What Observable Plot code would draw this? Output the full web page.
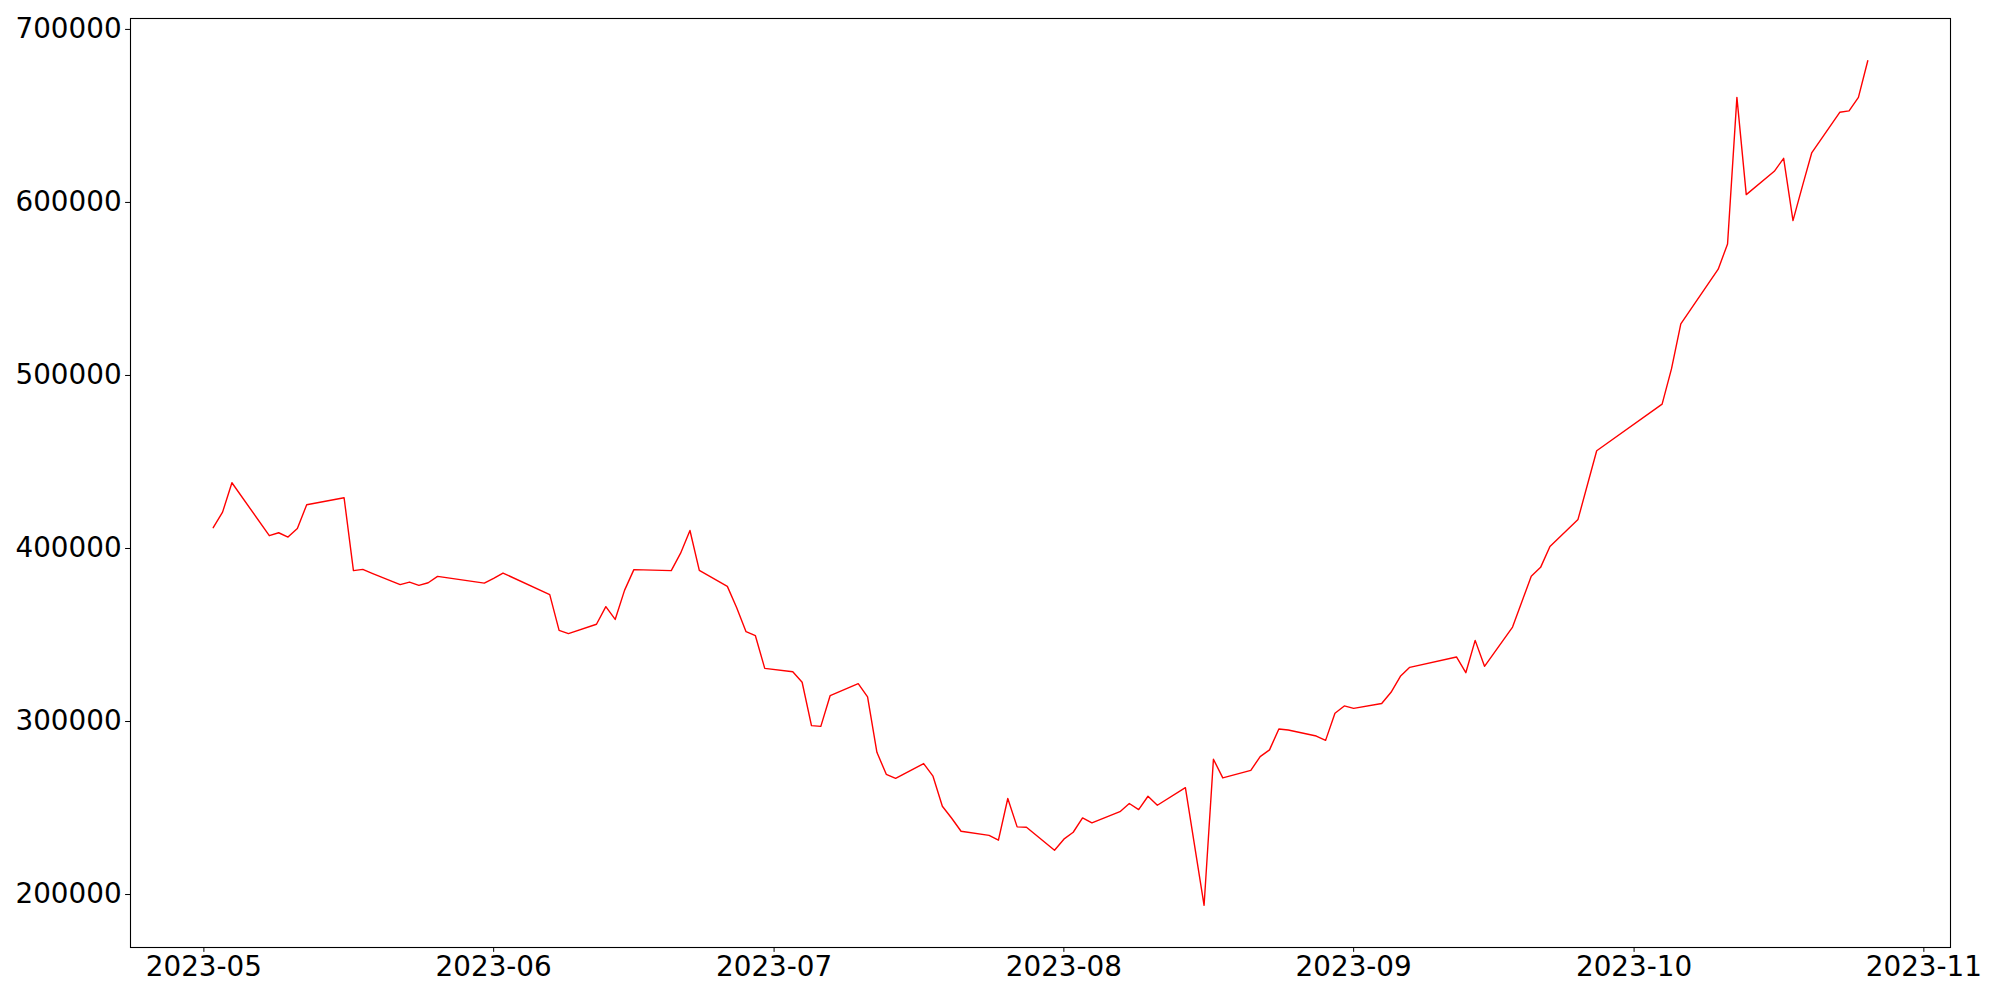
<!DOCTYPE html>
<html>
<head>
<meta charset="utf-8">
<script src="https://cdn.jsdelivr.net/npm/d3@7"></script>
<script src="https://cdn.jsdelivr.net/npm/@observablehq/plot@0.6"></script>
<style>
  html, body { margin: 0; padding: 0; background: #fff; }
  #chart svg { display: block; }
</style>
</head>
<body>
<div id="chart"></div>
<script>
const dates = [
  "2023-05-02","2023-05-03","2023-05-04","2023-05-08","2023-05-09","2023-05-10","2023-05-11","2023-05-12",
  "2023-05-16","2023-05-17","2023-05-18","2023-05-19","2023-05-22","2023-05-23","2023-05-24","2023-05-25",
  "2023-05-26","2023-05-31","2023-06-01","2023-06-02","2023-06-07","2023-06-08","2023-06-09","2023-06-12",
  "2023-06-13","2023-06-14","2023-06-15","2023-06-16","2023-06-20","2023-06-21","2023-06-22","2023-06-23",
  "2023-06-26","2023-06-27","2023-06-28","2023-06-29","2023-06-30","2023-07-03","2023-07-04","2023-07-05",
  "2023-07-06","2023-07-07","2023-07-10","2023-07-11","2023-07-12","2023-07-13","2023-07-14","2023-07-17",
  "2023-07-18","2023-07-19","2023-07-20","2023-07-21","2023-07-24","2023-07-25","2023-07-26","2023-07-27",
  "2023-07-28","2023-07-31","2023-08-01","2023-08-02","2023-08-03","2023-08-04","2023-08-07","2023-08-08",
  "2023-08-09","2023-08-10","2023-08-11","2023-08-14","2023-08-16","2023-08-17","2023-08-18","2023-08-21",
  "2023-08-22","2023-08-23","2023-08-24","2023-08-25","2023-08-28","2023-08-29","2023-08-30","2023-08-31",
  "2023-09-01","2023-09-04","2023-09-05","2023-09-06","2023-09-07","2023-09-12","2023-09-13","2023-09-14",
  "2023-09-15","2023-09-18","2023-09-20","2023-09-21","2023-09-22","2023-09-25","2023-09-27","2023-10-04",
  "2023-10-05","2023-10-06","2023-10-10","2023-10-11","2023-10-12","2023-10-13","2023-10-16","2023-10-17",
  "2023-10-18","2023-10-19","2023-10-20","2023-10-23","2023-10-24","2023-10-25","2023-10-26"
];
const values = [
  412000,421000,438000,407400,409100,406600,411600,425300,
  429300,387200,387900,385600,379100,380600,378700,380200,
  383900,380000,382700,385800,373300,352700,350800,356200,
  366400,359000,375800,387800,387200,397300,410400,387300,
  378100,365800,351900,349600,330700,328800,322700,297600,
  297200,315000,321900,314200,282200,269500,267200,275700,
  268400,251000,244100,236600,234200,231400,255500,239100,
  238900,225600,232000,236000,244300,241400,247900,252600,
  249100,256800,251600,261800,193800,278200,267400,271800,
  279700,283600,295700,295100,291600,289100,304800,309000,
  307600,310400,316900,326100,331300,337300,328200,346900,
  331900,354600,384000,389100,401200,416800,456500,483400,
  503800,529800,561400,576000,660700,604500,618000,625500,
  589500,609300,628600,652100,652900,660700,681900
];
const yTicks = [200000, 300000, 400000, 500000, 600000, 700000];
const xTickLabels = ["2023-05","2023-06","2023-07","2023-08","2023-09","2023-10","2023-11"];

const data = dates.map((d, i) => ({date: new Date(d + "T00:00:00Z"), value: values[i]}));

// matplotlib-like 5% auto margins
function pad(ext) { const s = ext[1] - ext[0]; return [ext[0] - 0.05 * s, ext[1] + 0.05 * s]; }
const xExt = d3.extent(data, d => +d.date);
const xDom = pad(xExt).map(t => new Date(t));
const yDom = pad(d3.extent(data, d => d.value));
const xTicks = xTickLabels.map(s => new Date(s + "-01T00:00:00Z"));

const chart = Plot.plot({
  width: 2000,
  height: 1000,
  marginLeft: 130,
  marginRight: 50,
  marginTop: 18,
  marginBottom: 53,
  style: {fontFamily: "'DejaVu Sans', sans-serif", fontSize: "27.8px", color: "#000", background: "#fff"},
  x: {type: "utc", domain: xDom, ticks: xTicks, tickFormat: d3.utcFormat("%Y-%m"), tickSize: 4.9, tickPadding: 4, label: null},
  y: {domain: yDom, ticks: yTicks, tickFormat: d => String(d), tickSize: 4.9, tickPadding: 4, label: null},
  marks: [
    Plot.lineY(data, {x: "date", y: "value", stroke: "red", strokeWidth: 1.4}),
    Plot.frame({stroke: "#000", strokeWidth: 1.1})
  ]
});
document.getElementById("chart").appendChild(chart);
</script>
</body>
</html>
